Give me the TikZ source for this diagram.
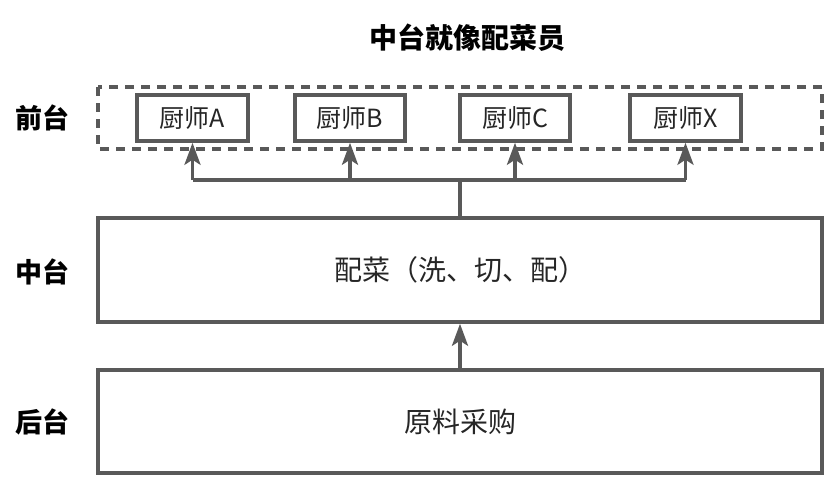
\documentclass[tikz,border=0pt]{standalone}
\usepackage{fontspec}
\newfontfamily\cjk{Noto Sans CJK SC}
\usetikzlibrary{arrows.meta}

\tikzset{
	box/.style={draw=linegray, line width=3.5pt, inner sep=0pt, font=\cjk\fontsize{25}{25}\selectfont, text=textgray},
	bigbox/.style={box, font=\cjk\fontsize{28}{28}\selectfont},
	label/.style={font=\cjk\bfseries\fontsize{27}{27}\selectfont, text=black},
	arr/.style={-{Stealth[length=22pt,width=16pt,inset=5pt]}, draw=linegray, line width=3.5pt}
}
\definecolor{linegray}{HTML}{595959}
\definecolor{textgray}{HTML}{262626}

\begin{document}
\begin{tikzpicture}[x=1pt,y=-1pt]
		\useasboundingbox (0,0) rectangle (834,480);

		\node[font=\cjk\bfseries\fontsize{28}{28}\selectfont] (title) at (467,38) {中台就像配菜员};

		% front stage
		\draw[linegray, line width=3.5pt, dash pattern=on 9pt off 7pt] (98,87) rectangle (822,149);
		\node[box, minimum width=111pt, minimum height=46pt] (chefa) at (192.5,118) {厨师A};
		\node[box, minimum width=110pt, minimum height=46pt] (chefb) at (350,118) {厨师B};
		\node[box, minimum width=110pt, minimum height=46pt] (chefc) at (515,118) {厨师C};
		\node[box, minimum width=111pt, minimum height=46pt] (chefx) at (685.5,118) {厨师X};

		% middle and back stage
		\node[bigbox, minimum width=724pt, minimum height=104pt] (mid) at (460,270) {配菜（洗、切、配）};
		\node[bigbox, minimum width=724pt, minimum height=103pt] (back) at (460,421.5) {原料采购};

		\node[label] (lfront) at (43,118) {前台};
		\node[label] (lmid) at (43,272) {中台};
		\node[label] (lback) at (43,422) {后台};

		% connectors
		\coordinate (hub) at (460,180);
		\draw[linegray, line width=3.5pt] (mid.north) -- (hub);
		\draw[linegray, line width=3.5pt] (193,180) -- (686,180);
		\foreach \c in {chefa, chefb, chefc, chefx}{
			\draw[arr] (hub -| \c.south) -- (\c.south);
		}
		\draw[arr] (back.north) -- (mid.south);

	\end{tikzpicture}
\end{document}
